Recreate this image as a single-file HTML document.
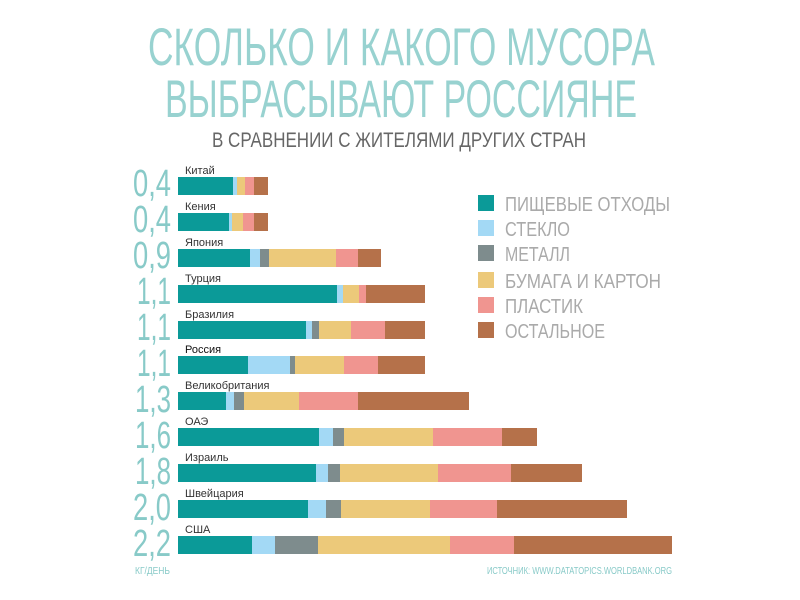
<!DOCTYPE html>
<html><head><meta charset="utf-8"><style>body{margin:0;background:#fff}svg{display:block}</style></head>
<body>
<svg width="800" height="600" xmlns="http://www.w3.org/2000/svg" font-family="'Liberation Sans', sans-serif">
<g fill="#98d2d0">
<text x="148" y="65" font-size="53" textLength="507" lengthAdjust="spacingAndGlyphs">СКОЛЬКО И КАКОГО МУСОРА</text>
<text x="165" y="117" font-size="53" textLength="472" lengthAdjust="spacingAndGlyphs">ВЫБРАСЫВАЮТ РОССИЯНЕ</text>
</g>
<text x="212" y="147" font-size="21" fill="#666" textLength="374" lengthAdjust="spacingAndGlyphs">В СРАВНЕНИИ С ЖИТЕЛЯМИ ДРУГИХ СТРАН</text>

<g font-size="38" fill="#88cac8" text-anchor="end">
<text x="171" y="196" textLength="38" lengthAdjust="spacingAndGlyphs">0,4</text>
<text x="171" y="232" textLength="38" lengthAdjust="spacingAndGlyphs">0,4</text>
<text x="171" y="268" textLength="38" lengthAdjust="spacingAndGlyphs">0,9</text>
<text x="171" y="304" textLength="34" lengthAdjust="spacingAndGlyphs">1,1</text>
<text x="171" y="340" textLength="34" lengthAdjust="spacingAndGlyphs">1,1</text>
<text x="171" y="376" textLength="34" lengthAdjust="spacingAndGlyphs">1,1</text>
<text x="171" y="412" textLength="36" lengthAdjust="spacingAndGlyphs">1,3</text>
<text x="171" y="448" textLength="36" lengthAdjust="spacingAndGlyphs">1,6</text>
<text x="171" y="484" textLength="36" lengthAdjust="spacingAndGlyphs">1,8</text>
<text x="171" y="520" textLength="38" lengthAdjust="spacingAndGlyphs">2,0</text>
<text x="171" y="556" textLength="38" lengthAdjust="spacingAndGlyphs">2,2</text>
</g>

<g font-size="11" fill="#333">
<text x="185" y="174">Китай</text>
<text x="185" y="210">Кения</text>
<text x="185" y="246">Япония</text>
<text x="185" y="282">Турция</text>
<text x="185" y="318">Бразилия</text>
<text x="185" y="353" fill="#111">Россия</text>
<text x="185" y="389">Великобритания</text>
<text x="185" y="425">ОАЭ</text>
<text x="185" y="461">Израиль</text>
<text x="185" y="497">Швейцария</text>
<text x="185" y="533">США</text>
</g>

<g id="bars">
<g transform="translate(0,177)">
<rect x="178" width="55" height="18" fill="#0b9a98"/><rect x="233" width="4" height="18" fill="#a3d9f5"/><rect x="237" width="8" height="18" fill="#ecc97a"/><rect x="245" width="9" height="18" fill="#f09590"/><rect x="254" width="14" height="18" fill="#b5714a"/></g>
<g transform="translate(0,213)">
<rect x="178" width="51" height="18" fill="#0b9a98"/><rect x="229" width="3" height="18" fill="#a3d9f5"/><rect x="232" width="11" height="18" fill="#ecc97a"/><rect x="243" width="11" height="18" fill="#f09590"/><rect x="254" width="14" height="18" fill="#b5714a"/></g>
<g transform="translate(0,249)">
<rect x="178" width="72" height="18" fill="#0b9a98"/><rect x="250" width="10" height="18" fill="#a3d9f5"/><rect x="260" width="9" height="18" fill="#7e8c8d"/><rect x="269" width="67" height="18" fill="#ecc97a"/><rect x="336" width="22" height="18" fill="#f09590"/><rect x="358" width="23" height="18" fill="#b5714a"/></g>
<g transform="translate(0,285)">
<rect x="178" width="159" height="18" fill="#0b9a98"/><rect x="337" width="6" height="18" fill="#a3d9f5"/><rect x="343" width="16" height="18" fill="#ecc97a"/><rect x="359" width="7" height="18" fill="#f09590"/><rect x="366" width="59" height="18" fill="#b5714a"/></g>
<g transform="translate(0,321)">
<rect x="178" width="128" height="18" fill="#0b9a98"/><rect x="306" width="6" height="18" fill="#a3d9f5"/><rect x="312" width="7" height="18" fill="#7e8c8d"/><rect x="319" width="32" height="18" fill="#ecc97a"/><rect x="351" width="34" height="18" fill="#f09590"/><rect x="385" width="40" height="18" fill="#b5714a"/></g>
<g transform="translate(0,356)">
<rect x="178" width="70" height="18" fill="#0b9a98"/><rect x="248" width="42" height="18" fill="#a3d9f5"/><rect x="290" width="5" height="18" fill="#7e8c8d"/><rect x="295" width="49" height="18" fill="#ecc97a"/><rect x="344" width="34" height="18" fill="#f09590"/><rect x="378" width="47" height="18" fill="#b5714a"/></g>
<g transform="translate(0,392)">
<rect x="178" width="48" height="18" fill="#0b9a98"/><rect x="226" width="8" height="18" fill="#a3d9f5"/><rect x="234" width="10" height="18" fill="#7e8c8d"/><rect x="244" width="55" height="18" fill="#ecc97a"/><rect x="299" width="59" height="18" fill="#f09590"/><rect x="358" width="111" height="18" fill="#b5714a"/></g>
<g transform="translate(0,428)">
<rect x="178" width="141" height="18" fill="#0b9a98"/><rect x="319" width="14" height="18" fill="#a3d9f5"/><rect x="333" width="11" height="18" fill="#7e8c8d"/><rect x="344" width="89" height="18" fill="#ecc97a"/><rect x="433" width="69" height="18" fill="#f09590"/><rect x="502" width="35" height="18" fill="#b5714a"/></g>
<g transform="translate(0,464)">
<rect x="178" width="138" height="18" fill="#0b9a98"/><rect x="316" width="12" height="18" fill="#a3d9f5"/><rect x="328" width="12" height="18" fill="#7e8c8d"/><rect x="340" width="98" height="18" fill="#ecc97a"/><rect x="438" width="73" height="18" fill="#f09590"/><rect x="511" width="71" height="18" fill="#b5714a"/></g>
<g transform="translate(0,500)">
<rect x="178" width="130" height="18" fill="#0b9a98"/><rect x="308" width="18" height="18" fill="#a3d9f5"/><rect x="326" width="15" height="18" fill="#7e8c8d"/><rect x="341" width="89" height="18" fill="#ecc97a"/><rect x="430" width="67" height="18" fill="#f09590"/><rect x="497" width="130" height="18" fill="#b5714a"/></g>
<g transform="translate(0,536)">
<rect x="178" width="74" height="18" fill="#0b9a98"/><rect x="252" width="23" height="18" fill="#a3d9f5"/><rect x="275" width="43" height="18" fill="#7e8c8d"/><rect x="318" width="132" height="18" fill="#ecc97a"/><rect x="450" width="64" height="18" fill="#f09590"/><rect x="514" width="158" height="18" fill="#b5714a"/></g>
</g>

<g>
<rect x="478" y="195" width="16" height="16" fill="#0b9a98"/>
<rect x="478" y="220" width="16" height="16" fill="#a3d9f5"/>
<rect x="478" y="245" width="16" height="16" fill="#7e8c8d"/>
<rect x="478" y="272" width="16" height="16" fill="#ecc97a"/>
<rect x="478" y="297" width="16" height="16" fill="#f09590"/>
<rect x="478" y="322" width="16" height="16" fill="#b5714a"/>
</g>
<g font-size="20" fill="#aaa">
<text x="505" y="211" textLength="165" lengthAdjust="spacingAndGlyphs">ПИЩЕВЫЕ ОТХОДЫ</text>
<text x="505" y="236" textLength="65" lengthAdjust="spacingAndGlyphs">СТЕКЛО</text>
<text x="505" y="261" textLength="65" lengthAdjust="spacingAndGlyphs">МЕТАЛЛ</text>
<text x="505" y="288" textLength="156" lengthAdjust="spacingAndGlyphs">БУМАГА И КАРТОН</text>
<text x="505" y="313" textLength="78" lengthAdjust="spacingAndGlyphs">ПЛАСТИК</text>
<text x="505" y="338" textLength="100" lengthAdjust="spacingAndGlyphs">ОСТАЛЬНОЕ</text>
</g>

<text x="135" y="574" font-size="10" fill="#88cac8" textLength="35" lengthAdjust="spacingAndGlyphs">КГ/ДЕНЬ</text>
<text x="487" y="574" font-size="10" fill="#88cac8" textLength="185" lengthAdjust="spacingAndGlyphs">ИСТОЧНИК: WWW.DATATOPICS.WORLDBANK.ORG</text>
</svg>
</body></html>
